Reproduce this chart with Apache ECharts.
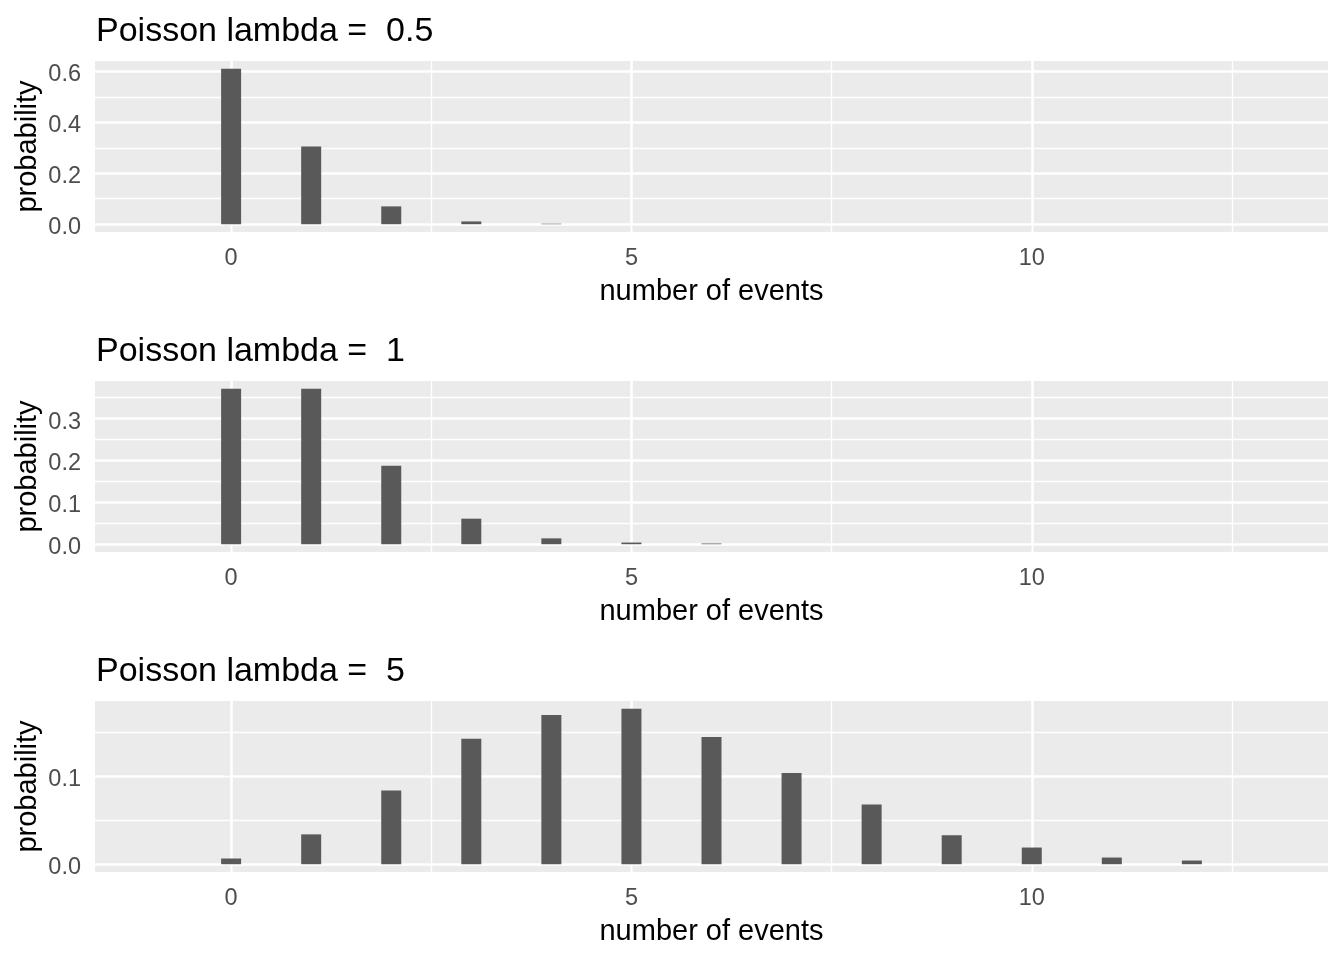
<!DOCTYPE html>
<html><head><meta charset="utf-8">
<script src="https://cdn.jsdelivr.net/npm/echarts@6/dist/echarts.min.js"></script>
<style>html,body{margin:0;padding:0;background:#fff}#c{width:1344px;height:960px}</style>
</head><body><div id="c"></div>
<script>
// ---- data ----
const lambdaLabels = ['0.5', '1', '5'];
const eventsA = [0, 1, 2, 3, 4];
const probA = [0.610, 0.305, 0.070, 0.011, 0.002];
const eventsB = [0, 1, 2, 3, 4, 5, 6];
const probB = [0.371, 0.371, 0.187, 0.061, 0.014, 0.004, 0.0017];
const eventsC = [0, 1, 2, 3, 4, 5, 6, 7, 8, 9, 10, 11, 12];
const probC = [0.0065, 0.034, 0.084, 0.143, 0.170, 0.177, 0.145, 0.104, 0.068, 0.033, 0.019, 0.0076, 0.0042];
const xTicks = [0, 5, 10];
const xMinor = [2.5, 7.5, 12.5];
const yTicksA = [0, 0.2, 0.4, 0.6], yMinorA = [0.1, 0.3, 0.5];
const yTicksB = [0, 0.1, 0.2, 0.3], yMinorB = [0.05, 0.15, 0.25, 0.35];
const yTicksC = [0, 0.1], yMinorC = [0.05, 0.15];

const FONT = '"Liberation Sans", Arial, sans-serif';
const panels = [
  {events: eventsA, prob: probA, yTicks: yTicksA, yMinor: yMinorA},
  {events: eventsB, prob: probB, yTicks: yTicksB, yMinor: yMinorB},
  {events: eventsC, prob: probC, yTicks: yTicksC, yMinor: yMinorC}
];
const X_MIN = -1.7, X_MAX = 13.7;
const PANEL_STEP = 320;

const option = {
  animation: false,
  backgroundColor: '#fff',
  title: [], grid: [], xAxis: [], yAxis: [], series: []
};

panels.forEach((p, i) => {
  const ymax = Math.max(...p.prob);
  const pad = ymax * 0.05;
  option.title.push({
    text: 'Poisson lambda =  ' + lambdaLabels[i],
    left: 91, top: 10 + PANEL_STEP * i,
    textStyle: {fontSize: 34, fontWeight: 'normal', color: '#000', fontFamily: FONT}
  });
  option.grid.push({
    left: 95, top: 61 + PANEL_STEP * i, width: 1233, height: 171,
    show: true, backgroundColor: '#EBEBEB', borderWidth: 0
  });
  option.xAxis.push({
    type: 'value', gridIndex: i, min: X_MIN, max: X_MAX,
    axisLine: {show: false}, splitLine: {show: false},
    axisTick: {show: true, customValues: xTicks, length: 7, lineStyle: {color: '#333', width: 1.4}},
    axisLabel: {customValues: xTicks, margin: 15, color: '#4D4D4D', fontSize: 23.5, fontFamily: FONT},
    name: 'number of events', nameLocation: 'middle', nameGap: 45, nameMoveOverlap: false,
    nameTextStyle: {fontSize: 29, color: '#000', fontFamily: FONT}
  });
  option.yAxis.push({
    type: 'value', gridIndex: i, min: -pad, max: ymax + pad,
    axisLine: {show: false}, splitLine: {show: false},
    axisTick: {show: true, customValues: p.yTicks, length: 7, lineStyle: {color: '#333', width: 1.4}},
    axisLabel: {customValues: p.yTicks, margin: 14, fontFamily: FONT,
      formatter: v => '{t|' + Number(v).toFixed(1) + '}',
      rich: {t: {color: '#4D4D4D', fontSize: 23.5, fontFamily: FONT, padding: [7, 0, 0, 0]}}},
    name: 'probability', nameLocation: 'middle', nameGap: 53, nameMoveOverlap: false,
    nameTextStyle: {fontSize: 29, color: '#000', fontFamily: FONT}
  });
  const lines = [];
  xTicks.forEach(v => lines.push({xAxis: v, lineStyle: {width: 2.6}}));
  xMinor.forEach(v => lines.push({xAxis: v, lineStyle: {width: 1.3}}));
  p.yTicks.forEach(v => lines.push({yAxis: v, lineStyle: {width: 2.6}}));
  p.yMinor.forEach(v => lines.push({yAxis: v, lineStyle: {width: 1.3}}));
  option.series.push({
    type: 'bar', xAxisIndex: i, yAxisIndex: i,
    data: p.events.map((x, k) => [x, p.prob[k]]),
    barWidth: 20, itemStyle: {color: '#595959'},
    markLine: {
      silent: true, symbol: 'none', z: 1, animation: false,
      label: {show: false},
      lineStyle: {color: '#FFFFFF', type: 'solid'},
      data: lines
    }
  });
});

const chart = echarts.init(document.getElementById('c'), null, {renderer: 'canvas'});
chart.setOption(option);
</script>
</body></html>
